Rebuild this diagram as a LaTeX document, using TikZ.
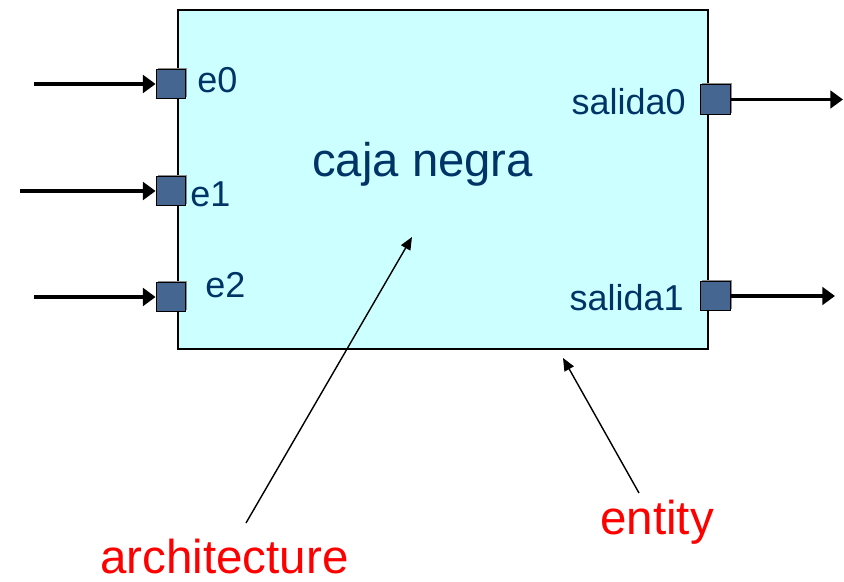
\documentclass[tikz,border=0pt]{standalone}
\usepackage{fontspec}
\setmainfont{Liberation Sans}
\usepackage{tikz}
\usetikzlibrary{arrows.meta, shadows}

\definecolor{boxcyan}{RGB}{204,255,255}
\definecolor{portblue}{RGB}{68,102,145}
\definecolor{textblue}{RGB}{0,51,102}

\tikzset{
    port/.style = {draw=black, fill=portblue, line width=0.9pt, minimum size=21pt, inner sep=0pt,
                   drop shadow={shadow xshift=1.2pt, shadow yshift=1.2pt, fill=black!45, opacity=1}},
    portlabel/.style = {text=textblue, inner sep=0pt, font=\fontsize{25.6}{30}\selectfont},
    bigred/.style = {text=red, inner sep=0pt, font=\fontsize{33.8}{40}\selectfont},
    signal/.style = {line width=2.8pt, -{Triangle[length=9pt, width=12.5pt]}},
    pointer/.style = {line width=1pt, -{Triangle[length=9pt, width=7.5pt]}}
}

\begin{document}
\begin{tikzpicture}[x=0.025cm, y=-0.025cm]
        \useasboundingbox (0, 0) rectangle (844, 582);
        % caja
        \draw[fill=boxcyan, line width=1pt] (178, 10) rectangle (708, 349);
        \node[text=textblue, inner sep=0pt, anchor=base west, font=\fontsize{33.6}{40}\selectfont]
            (caja) at (312, 177) {caja negra};
        % puertos
        \node[port] (p0) at (171, 84) {};
        \node[port] (p1) at (171, 191) {};
        \node[port] (p2) at (171, 297) {};
        \node[port] (s0) at (715.5, 99.5) {};
        \node[port] (s1) at (715.5, 296) {};
        \node[portlabel, anchor=base west] (le0) at (197, 93) {e0};
        \node[portlabel, anchor=base west] (le1) at (190, 207) {e1};
        \node[portlabel, anchor=base west] (le2) at (205, 298) {e2};
        \node[portlabel, anchor=base east] (ls0) at (686, 115) {salida0};
        \node[portlabel, anchor=base east] (ls1) at (684, 311) {salida1};
        % senales
        \coordinate (in0) at (34, 84);
        \coordinate (in1) at (20, 191);
        \coordinate (in2) at (34, 297);
        \coordinate (out0) at (843, 99.5);
        \coordinate (out1) at (835, 296);
        \draw[signal] (in0) -- (p0.west);
        \draw[signal] (in1) -- (p1.west);
        \draw[signal] (in2) -- (p2.west);
        \draw[signal] (s0.east) -- (out0);
        \draw[signal] (s1.east) -- (out1);
        % etiquetas
        \node[bigred, anchor=base west] (arch) at (100, 574) {architecture};
        \node[bigred, anchor=base west] (ent) at (600, 535) {entity};
        \coordinate (archtail) at (246, 523);
        \coordinate (archtip) at (412, 237);
        \coordinate (enttail) at (639, 493);
        \coordinate (enttip) at (563, 358);
        \draw[pointer] (archtail) -- (archtip);
        \draw[pointer] (enttail) -- (enttip);
    \end{tikzpicture}
\end{document}
